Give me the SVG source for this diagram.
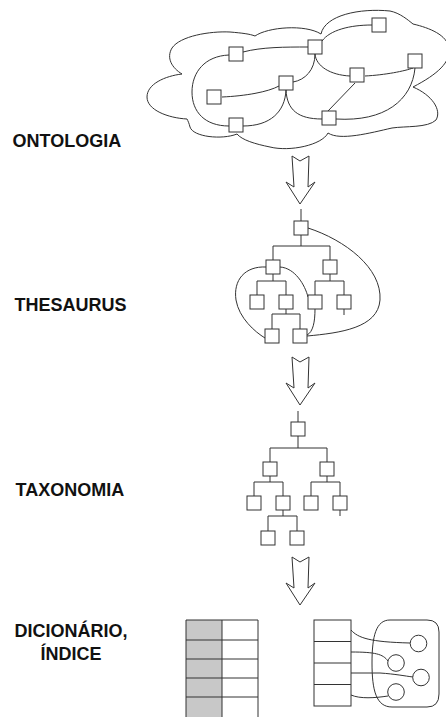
<svg xmlns="http://www.w3.org/2000/svg" width="446" height="717" viewBox="0 0 446 717">
  <style>
    .ln { fill: none; stroke: #333; stroke-width: 1; }
    .nd { fill: #fff; stroke: #333; stroke-width: 1; }
    .lbl { font-family: "Liberation Sans", Arial, sans-serif; font-size: 18px; font-weight: bold; fill: #111; }
    .shade { fill: #c8c8c8; stroke: none; }
  </style>
  <defs>
    <rect id="box" width="14" height="14"/>
    <path id="bigArrow" d="M292,156 L300,161 L309,156 L308,187 L315,182 L300,204 L286,182 L294,187 Z"/>
  </defs>
  <rect width="446" height="717" fill="#fff"/>

  <!-- level labels -->
  <g id="labels">
    <text class="lbl" x="12.5" y="146.5">ONTOLOGIA</text>
    <text class="lbl" x="14.6" y="310.5">THESAURUS</text>
    <text class="lbl" x="15.6" y="496">TAXONOMIA</text>
    <text class="lbl" x="71" y="636.5" text-anchor="middle">DICIONÁRIO,</text>
    <text class="lbl" x="71" y="659.5" text-anchor="middle">ÍNDICE</text>
  </g>

  <!-- ontology: cloud outline -->
  <g id="cloud">
    <path class="ln" d="M182,74 C 172,68 166,58 172,48 C 180,36 210,31 230,32 C 242,33 250,34 255,36
      C 268,27 305,24 321,34
      C 325,15 360,8 390,11 C 400,13 408,20 413,24
      C 430,28 447,35 449,48 C 451,62 438,74 413,87
      C 432,95 442,110 436,120 C 428,128 405,126 392,128 C 370,133 340,141 328,133
      C 322,145 290,152 270,147 C 255,144 242,140 237,134
      C 222,140 193,137 190,127 C 189,123 188,121 187,119
      C 168,118 147,110 147,97 C 147,84 165,76 182,74 Z"/>
  </g>

  <!-- connectors -->
  <g id="connectors">
    <!-- ontology graph edges -->
    <path class="ln" d="M243,52 C 262,47 285,47 308,47"/>
    <path class="ln" d="M229,55 C 205,56 192,72 192,92 C 192,112 205,126 229,126"/>
    <path class="ln" d="M222,97 C 245,96 268,92 279,86"/>
    <path class="ln" d="M293,82 C 305,80 315,70 315,54"/>
    <path class="ln" d="M286,90 C 285,112 270,126 243,126"/>
    <path class="ln" d="M286,90 C 287,110 298,119 322,119"/>
    <path class="ln" d="M315,54 C 316,66 330,75 350,76"/>
    <path class="ln" d="M365,76 C 385,75 405,71 413,68"/>
    <path class="ln" d="M322,41 C 330,30 350,25 372,25"/>
    <path class="ln" d="M355,83 L 328,111"/>
    <path class="ln" d="M415,68 C 412,100 385,122 336,119"/>

    <!-- thesaurus hierarchy -->
    <path class="ln" d="M301,209 V221 M301,235 V246 M273,246 H330 M273,246 V260 M330,246 V260
      M273,274 V281 M257,281 H286 M257,281 V295 M286,281 V295
      M330,274 V281 M315,281 H344 M315,281 V295 M344,281 V295 M344,309 V315
      M286,309 V314 M272,314 H300 M272,314 V329 M300,314 V329"/>
    <!-- thesaurus cross references -->
    <path class="ln" d="M308,228 C 345,240 382,268 380,300 C 378,328 340,333 307,336"/>
    <path class="ln" d="M266,267 C 245,266 233,280 236,300 C 239,318 255,332 265,338"/>
    <path class="ln" d="M280,267 C 295,268 305,285 308,297"/>
    <path class="ln" d="M315,309 C 315,322 313,332 307,335"/>

    <!-- taxonomy hierarchy -->
    <path class="ln" d="M298,411 V422 M298,436 V448 M270,448 H327 M270,448 V462 M327,448 V462
      M270,476 V482 M254,482 H283 M254,482 V496 M283,482 V496
      M327,476 V482 M311,482 H340 M311,482 V496 M340,482 V496 M340,510 V516
      M283,510 V516 M268,516 H297 M268,516 V531 M297,516 V531"/>

    <!-- index entries to concepts -->
    <path class="ln" d="M351,630 C 358,638 370,642 410,643"/>
    <path class="ln" d="M351,652 C 375,652 383,654 388,661"/>
    <path class="ln" d="M351,673 L 380,673 C 395,674 405,676 413,677"/>
    <path class="ln" d="M351,695 C 360,699 375,698 388,696"/>
  </g>

  <!-- transition arrows -->
  <g id="arrows">
    <use href="#bigArrow" class="ln"/>
    <use href="#bigArrow" class="ln" transform="translate(0,201)"/>
    <use href="#bigArrow" class="ln" transform="translate(0,401)"/>
  </g>

  <!-- ontology nodes -->
  <g id="onto-a"><use href="#box" class="nd" x="229" y="47"/></g>
  <g id="onto-b"><use href="#box" class="nd" x="308" y="40"/></g>
  <g id="onto-c"><use href="#box" class="nd" x="372" y="18"/></g>
  <g id="onto-d"><use href="#box" class="nd" x="408" y="54"/></g>
  <g id="onto-e"><use href="#box" class="nd" x="350" y="68"/></g>
  <g id="onto-f"><use href="#box" class="nd" x="279" y="76"/></g>
  <g id="onto-g"><use href="#box" class="nd" x="207" y="90"/></g>
  <g id="onto-h"><use href="#box" class="nd" x="229" y="118"/></g>
  <g id="onto-i"><use href="#box" class="nd" x="322" y="111"/></g>

  <!-- thesaurus nodes -->
  <g id="thes-root"><use href="#box" class="nd" x="294" y="221"/></g>
  <g id="thes-l"><use href="#box" class="nd" x="266" y="260"/></g>
  <g id="thes-r"><use href="#box" class="nd" x="323" y="260"/></g>
  <g id="thes-ll"><use href="#box" class="nd" x="250" y="295"/></g>
  <g id="thes-lr"><use href="#box" class="nd" x="279" y="295"/></g>
  <g id="thes-rl"><use href="#box" class="nd" x="308" y="295"/></g>
  <g id="thes-rr"><use href="#box" class="nd" x="337" y="295"/></g>
  <g id="thes-lrl"><use href="#box" class="nd" x="265" y="329"/></g>
  <g id="thes-lrr"><use href="#box" class="nd" x="293" y="329"/></g>

  <!-- taxonomy nodes -->
  <g id="tax-root"><use href="#box" class="nd" x="291" y="422"/></g>
  <g id="tax-l"><use href="#box" class="nd" x="263" y="462"/></g>
  <g id="tax-r"><use href="#box" class="nd" x="320" y="462"/></g>
  <g id="tax-ll"><use href="#box" class="nd" x="247" y="496"/></g>
  <g id="tax-lr"><use href="#box" class="nd" x="276" y="496"/></g>
  <g id="tax-rl"><use href="#box" class="nd" x="304" y="496"/></g>
  <g id="tax-rr"><use href="#box" class="nd" x="333" y="496"/></g>
  <g id="tax-lrl"><use href="#box" class="nd" x="261" y="531"/></g>
  <g id="tax-lrr"><use href="#box" class="nd" x="290" y="531"/></g>

  <!-- dictionary table -->
  <g id="dictionary">
    <rect class="shade" x="186" y="620" width="36" height="97"/>
    <path class="ln" d="M186,717 V620 H258 V717 M222,620 V717 M186,640 H258 M186,659 H258 M186,678 H258 M186,697 H258"/>
  </g>

  <!-- index table -->
  <g id="index">
    <rect class="ln" x="314" y="620" width="37" height="86"/>
    <path class="ln" d="M314,641.5 H351 M314,663 H351 M314,684.5 H351"/>
  </g>

  <!-- concept set -->
  <g id="concepts">
    <path class="ln" d="M390,620 L427,620 Q439,620 439,632 L439,694 Q439,707 427,707 L392,707 C 376,707 372,690 372,663 C 372,636 376,620 390,620 Z"/>
    <circle class="nd" cx="418.5" cy="643.5" r="8.3"/>
    <circle class="nd" cx="396" cy="663" r="8.3"/>
    <circle class="nd" cx="421" cy="677.5" r="8.3"/>
    <circle class="nd" cx="396" cy="692" r="8.3"/>
  </g>
</svg>
